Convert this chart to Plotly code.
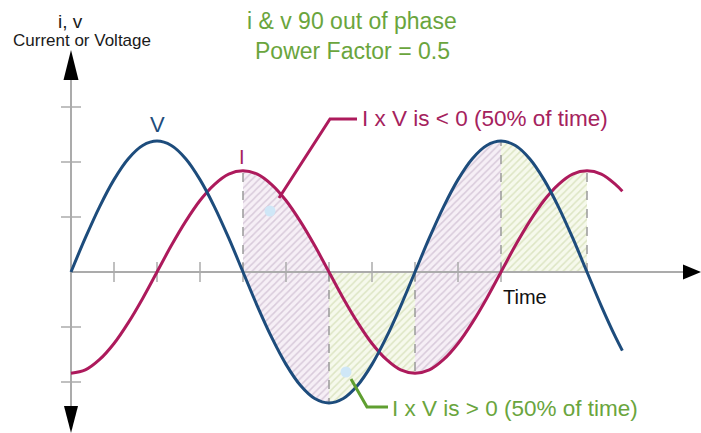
import plotly.graph_objects as go

# ---------------- data ----------------
# time in electrical degrees
TIME_DEG = [0, 15, 30, 45, 60, 75, 90, 105, 120, 135, 150, 165, 180, 195, 210, 225,
            240, 255, 270, 285, 300, 315, 330, 345, 360, 375, 390, 405, 420, 435, 450,
            465, 480, 495, 510, 525, 540, 555, 570, 577]
# voltage (blue)
V_VALUES = [0, 0.62, 1.19, 1.68, 2.06, 2.30, 2.38, 2.30, 2.06, 1.68, 1.19, 0.62, 0,
            -0.62, -1.19, -1.68, -2.06, -2.30, -2.38, -2.30, -2.06, -1.68, -1.19, -0.62, 0,
            0.62, 1.19, 1.68, 2.06, 2.30, 2.38, 2.30, 2.06, 1.68, 1.19, 0.62, 0,
            -0.62, -1.19, -1.43]
# current (magenta), lagging 90 degrees
I_VALUES = [-1.84, -1.78, -1.59, -1.30, -0.92, -0.48, 0, 0.48, 0.92, 1.30, 1.59, 1.78, 1.84,
            1.78, 1.59, 1.30, 0.92, 0.48, 0, -0.48, -0.92, -1.30, -1.59, -1.78, -1.84,
            -1.78, -1.59, -1.30, -0.92, -0.48, 0, 0.48, 0.92, 1.30, 1.59, 1.78, 1.84,
            1.78, 1.59, 1.47]
NEG_SPANS = [(180, 270), (360, 450)]   # I x V < 0
POS_SPANS = [(270, 360), (450, 540)]   # I x V > 0
DASH_AT = [180, 270, 360, 450, 540]
XTICKS = [45, 90, 135, 180, 225, 270, 315, 360, 405, 450]
YTICKS = [-2, -1, 1, 2, 3]

# ---------------- pixel helpers ----------------
W, H = 701, 433
X0, PXDEG, Y0, PXU = 71, 86 / 90, 272, 55


def dx(px):
    return (px - X0) / PXDEG


def dy(py):
    return (Y0 - py) / PXU


BLUE = "#1d4c7c"
MAG = "#ad1a5c"
MAG_TXT = "#a5225d"
GREEN_TXT = "#6aa53d"
GREEN_LINE = "#5f9f30"
AXIS = "#ababab"
FONT = "Liberation Sans, Arial, sans-serif"

fig = go.Figure()


def seg(arr, a, b):
    pts = [(t, v) for t, v in zip(TIME_DEG, arr) if a <= t <= b]
    return [p[0] for p in pts], [p[1] for p in pts]


def envelope(a, b, fn):
    xs, ys = [], []
    idx = [k for k, t in enumerate(TIME_DEG) if a <= t <= b]
    for n, k in enumerate(idx):
        xs.append(TIME_DEG[k])
        ys.append(fn(V_VALUES[k], I_VALUES[k]))
        if n + 1 < len(idx):
            k2 = idx[n + 1]
            d1 = V_VALUES[k] - I_VALUES[k]
            d2 = V_VALUES[k2] - I_VALUES[k2]
            if d1 * d2 < 0:
                f = d1 / (d1 - d2)
                xs.append(TIME_DEG[k] + f * (TIME_DEG[k2] - TIME_DEG[k]))
                ys.append(V_VALUES[k] + f * (V_VALUES[k2] - V_VALUES[k]))
    return xs, ys


purple_pat = dict(shape="/", bgcolor="#f6eff6", fgcolor="#bba6bf", size=5, solidity=0.3)
green_pat = dict(shape="/", bgcolor="#f6f9ec", fgcolor="#c4d29c", size=5, solidity=0.3)

for a, b in NEG_SPANS:
    vx, vy = seg(V_VALUES, a, b)
    ix, iy = seg(I_VALUES, a, b)
    fig.add_trace(go.Scatter(x=vx + ix[::-1], y=vy + iy[::-1], fill="toself",
                             fillpattern=purple_pat, fillcolor="#f6eff6",
                             mode="lines", line=dict(width=0), hoverinfo="skip"))

for (a, b), fn in zip(POS_SPANS, [min, max]):
    ex, ey = envelope(a, b, fn)
    fig.add_trace(go.Scatter(x=[a] + ex + [b], y=[0] + ey + [0], fill="toself",
                             fillpattern=green_pat, fillcolor="#f6f9ec",
                             mode="lines", line=dict(width=0), hoverinfo="skip"))

# axes lines
fig.add_trace(go.Scatter(x=[0, dx(683)], y=[0, 0], mode="lines",
                         line=dict(color=AXIS, width=2), hoverinfo="skip"))
fig.add_trace(go.Scatter(x=[0, 0], y=[dy(80), dy(406)], mode="lines",
                         line=dict(color=AXIS, width=2), hoverinfo="skip"))
# ticks
tx, ty = [], []
for t in XTICKS:
    tx += [t, t, None]
    ty += [10 / PXU, -10 / PXU, None]
for v in YTICKS:
    tx += [-10 / PXDEG, 10 / PXDEG, None]
    ty += [v, v, None]
fig.add_trace(go.Scatter(x=tx, y=ty, mode="lines", line=dict(color=AXIS, width=1.5),
                         hoverinfo="skip"))

# dashed verticals
dxs, dys = [], []
for t in DASH_AT:
    k = TIME_DEG.index(t)
    v = V_VALUES[k] if abs(V_VALUES[k]) > abs(I_VALUES[k]) else I_VALUES[k]
    dxs += [t, t, None]
    dys += [0, v, None]
fig.add_trace(go.Scatter(x=dxs, y=dys, mode="lines",
                         line=dict(color="#9a9a9a", width=1.5, dash="dash"),
                         hoverinfo="skip"))

# curves
fig.add_trace(go.Scatter(x=TIME_DEG, y=I_VALUES, mode="lines",
                         line=dict(color=MAG, width=3, shape="spline"), name="I"))
fig.add_trace(go.Scatter(x=TIME_DEG, y=V_VALUES, mode="lines",
                         line=dict(color=BLUE, width=3, shape="spline"), name="V"))

# leader lines
fig.add_trace(go.Scatter(x=[dx(357), dx(330), dx(279)], y=[dy(119), dy(119), dy(198)],
                         mode="lines", line=dict(color=MAG, width=3), hoverinfo="skip"))
fig.add_trace(go.Scatter(x=[dx(351), dx(367), dx(388)], y=[dy(379), dy(407), dy(407)],
                         mode="lines", line=dict(color=GREEN_LINE, width=3), hoverinfo="skip"))
fig.add_trace(go.Scatter(x=[dx(270), dx(346)], y=[dy(211), dy(372)], mode="markers",
                         marker=dict(color="#cfe7f7", size=11), hoverinfo="skip"))

# arrowheads
def tri(p):
    pts = " L ".join(f"{dx(a)},{dy(b)}" for a, b in p[1:])
    return f"M {dx(p[0][0])},{dy(p[0][1])} L {pts} Z"


shapes = [
    dict(type="path", path=tri([(71, 50), (63.5, 80), (78.5, 80)]), fillcolor="black",
         line=dict(width=0), xref="x", yref="y"),
    dict(type="path", path=tri([(71, 433), (64, 406), (78, 406)]), fillcolor="black",
         line=dict(width=0), xref="x", yref="y"),
    dict(type="path", path=tri([(701, 272), (683, 264.5), (683, 279.5)]), fillcolor="black",
         line=dict(width=0), xref="x", yref="y"),
]


def ann(px, py, text, size, color, xanchor="center"):
    return dict(x=dx(px), y=dy(py), xref="x", yref="y", text=text, showarrow=False,
                xanchor=xanchor, yanchor="middle",
                font=dict(family=FONT, size=size, color=color))


annotations = [
    ann(70, 21, "i, v", 19, "#1a1a1a"),
    ann(82, 40, "Current or Voltage", 17, "#1a1a1a"),
    ann(352, 21, "i &amp; v 90 out of phase", 23, GREEN_TXT),
    ann(352, 51, "Power Factor = 0.5", 23, GREEN_TXT),
    ann(157, 124, "V", 22, BLUE),
    ann(242, 157, "I", 20, MAG_TXT),
    ann(360, 118, "I x V is &lt; 0 (50% of time)", 22.5, MAG_TXT, "left"),
    ann(390, 408, "I x V is &gt; 0 (50% of time)", 22.5, GREEN_TXT, "left"),
    ann(525, 297, "Time", 20, "#111111"),
]

fig.update_layout(
    width=W, height=H, margin=dict(l=0, r=0, t=0, b=0),
    paper_bgcolor="white", plot_bgcolor="white", showlegend=False,
    xaxis=dict(range=[dx(0), dx(W)], visible=False, fixedrange=True),
    yaxis=dict(range=[dy(H), dy(0)], visible=False, fixedrange=True),
    shapes=shapes, annotations=annotations,
)

fig.write_html("out.html", config={"displayModeBar": False},
               post_script="document.body.style.margin='0';")
